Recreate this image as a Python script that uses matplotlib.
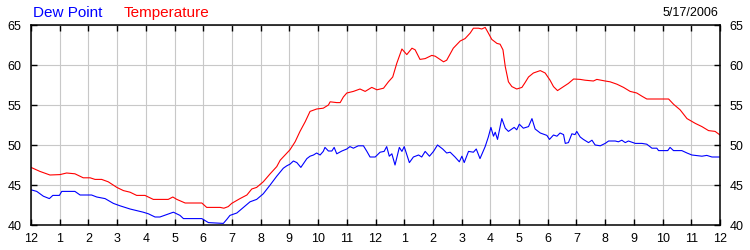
import matplotlib
matplotlib.use("Agg")
import matplotlib.pyplot as plt

# readings for 5/17/2006, hours since midnight
temp_hours = [0, 0.31, 0.66, 1.01, 1.24, 1.53, 1.82, 2.06, 2.23, 2.46, 2.69, 2.99,
              3.22, 3.45, 3.68, 3.97, 4.26, 4.78, 4.94, 5.08, 5.37, 5.95, 6.12, 6.59,
              6.72, 6.87, 6.99, 7.28, 7.52, 7.69, 7.86, 8.09, 8.33, 8.56, 8.68, 8.85,
              9.02, 9.20, 9.37, 9.55, 9.72, 9.95, 10.18, 10.36, 10.42, 10.65, 10.77,
              10.88, 11.0, 11.23, 11.46, 11.64, 11.87, 12.05, 12.28, 12.45, 12.60,
              12.74, 12.92, 13.09, 13.27, 13.38, 13.55, 13.73, 13.96, 14.08, 14.37,
              14.48, 14.71, 14.95, 15.12, 15.30, 15.41, 15.59, 15.70, 15.82, 15.93,
              16.05, 16.23, 16.34, 16.44, 16.52, 16.63, 16.75, 16.92, 17.10, 17.21,
              17.33, 17.50, 17.74, 17.91, 18.08, 18.20, 18.34, 18.55, 18.72, 18.90,
              19.13, 19.30, 19.59, 19.71, 20.0, 20.17, 20.41, 20.64, 20.87, 21.10,
              21.28, 21.45, 22.21, 22.38, 22.61, 22.85, 23.14, 23.37, 23.60, 23.83, 24.0]
temp_vals = [47.2, 46.7, 46.25, 46.3, 46.5, 46.4, 45.9, 45.9, 45.7, 45.7, 45.4, 44.7,
             44.3, 44.1, 43.7, 43.7, 43.2, 43.2, 43.5, 43.2, 42.75, 42.75, 42.2, 42.2,
             42.1, 42.3, 42.7, 43.3, 43.75, 44.5, 44.7, 45.4, 46.4, 47.3, 48.1, 48.75,
             49.4, 50.4, 51.7, 52.9, 54.2, 54.5, 54.6, 55.0, 55.4, 55.3, 55.3,
             56.0, 56.5, 56.7, 57.0, 56.7, 57.2, 56.9, 57.1, 57.9, 58.5,
             60.2, 62.0, 61.3, 62.1, 61.9, 60.7, 60.8, 61.2, 61.1, 60.4,
             60.6, 62.1, 63.0, 63.3, 64.0, 64.6, 64.6, 64.5, 64.7, 64.0,
             63.2, 62.7, 62.6, 61.9, 59.8, 57.9, 57.3, 57.0, 57.2, 57.8,
             58.5, 59.0, 59.3, 59.0, 58.1, 57.3, 56.8, 57.3, 57.7, 58.25,
             58.2, 58.1, 58.0, 58.2, 58.0, 57.9, 57.6, 57.2, 56.7, 56.5,
             56.1, 55.75, 55.75, 55.1, 54.4, 53.3, 52.7, 52.3, 51.8, 51.7, 51.25]

dew_hours = [0, 0.2, 0.43, 0.64, 0.76, 0.99, 1.07, 1.53, 1.71, 2.11, 2.29, 2.58, 2.87,
             3.10, 3.45, 3.91, 4.09, 4.32, 4.49, 4.73, 4.96, 5.19, 5.31, 5.95, 6.18,
             6.70, 6.82, 6.93, 7.17, 7.40, 7.63, 7.86, 8.09, 8.33, 8.56, 8.79, 8.91,
             9.02, 9.14, 9.26, 9.40, 9.61, 9.72, 9.84, 9.95, 10.07, 10.18, 10.24,
             10.36, 10.48, 10.56, 10.65, 10.83, 11.0, 11.11, 11.23, 11.40, 11.58,
             11.70, 11.81, 11.99, 12.16, 12.30, 12.39, 12.48, 12.57, 12.68, 12.83,
             12.92, 13.0, 13.18, 13.32, 13.50, 13.61, 13.73, 13.88, 14.02, 14.16,
             14.34, 14.48, 14.60, 14.77, 14.92, 15.01, 15.09, 15.24, 15.41, 15.51,
             15.64, 15.82, 15.93, 16.02, 16.11, 16.17, 16.25, 16.40, 16.52, 16.63,
             16.75, 16.83, 16.92, 17.01, 17.15, 17.33, 17.45, 17.56, 17.74, 17.97,
             18.06, 18.20, 18.32, 18.43, 18.55, 18.61, 18.72, 18.84, 18.95, 19.01,
             19.13, 19.24, 19.42, 19.54, 19.65, 19.83, 20.0, 20.12, 20.35, 20.46,
             20.58, 20.70, 20.81, 21.05, 21.28, 21.45, 21.63, 21.80, 21.86, 22.18,
             22.26, 22.38, 22.67, 22.85, 23.02, 23.37, 23.54, 23.72, 24.0]
dew_vals = [44.4, 44.2, 43.6, 43.3, 43.7, 43.7, 44.2, 44.2, 43.75, 43.75, 43.5, 43.3, 42.7,
            42.4, 42.0, 41.6, 41.4, 41.0, 41.0, 41.3, 41.6, 41.2, 40.8, 40.8, 40.3,
            40.2, 40.7, 41.2, 41.5, 42.2, 42.9, 43.2, 43.9, 45.0, 46.1, 47.1, 47.4,
            47.6, 48.0, 47.8, 47.2, 48.3, 48.6, 48.75, 49.0, 48.75, 49.2, 49.7,
            49.25, 49.25, 49.7, 48.9, 49.25, 49.5, 49.8, 49.6, 49.9, 49.9,
            49.2, 48.5, 48.5, 49.1, 49.2, 49.8, 48.6, 48.9, 47.5, 49.7,
            49.2, 49.8, 47.8, 48.5, 48.75, 48.5, 49.2, 48.6, 49.2, 50.0,
            49.5, 49.0, 49.1, 48.5, 47.9, 48.6, 47.8, 49.2, 49.1, 49.5,
            48.3, 49.8, 51.0, 52.2, 51.1, 51.6, 50.7, 53.3, 52.1, 51.7,
            52.0, 52.2, 51.9, 52.6, 52.1, 52.3, 53.3, 52.0, 51.5, 51.2,
            50.7, 51.25, 51.1, 51.5, 51.3, 50.2, 50.3, 51.4, 51.3, 51.7,
            51.0, 50.7, 50.3, 50.6, 50.0, 49.9, 50.2, 50.5, 50.5, 50.4,
            50.6, 50.3, 50.5, 50.2, 50.2, 50.1, 49.6, 49.6, 49.3, 49.3,
            49.7, 49.3, 49.3, 49.0, 48.75, 48.6, 48.7, 48.5, 48.5]

hour_ticks = list(range(0, 25))
hour_labels = ["12", "1", "2", "3", "4", "5", "6", "7", "8", "9", "10", "11",
               "12", "1", "2", "3", "4", "5", "6", "7", "8", "9", "10", "11", "12"]
y_ticks = [40, 45, 50, 55, 60, 65]
date_text = "5/17/2006"

plt.rcParams['font.family'] = ['Liberation Sans', 'DejaVu Sans']

fig = plt.figure(figsize=(7.5, 2.5), dpi=100)
ax = fig.add_axes([31 / 750, 0.1, 689 / 750, 0.8])

ax.plot(temp_hours, temp_vals, color="#ff0000", linewidth=0.8)
ax.plot(dew_hours, dew_vals, color="#0000ff", linewidth=0.8)

ax.set_xlim(0, 24)
ax.set_ylim(40, 65)
ax.set_xticks(hour_ticks)
ax.set_xticklabels(hour_labels)
ax.set_yticks(y_ticks)
ax.grid(True, color="#c8c8c8", linewidth=0.8)
ax.set_axisbelow(True)

for s in ax.spines.values():
    s.set_color("black")
    s.set_linewidth(1.1)

ax.tick_params(axis="x", direction="in", top=True, bottom=True, length=4,
               width=1, labelsize=9, pad=6)
ax.tick_params(axis="y", direction="in", left=True, right=True, labelleft=True,
               labelright=True, length=4, width=1, labelsize=9, pad=7)

fig.text(33 / 750, 1 - 13 / 250, "Dew Point", color="#0000ff", fontsize=11, va="center", ha="left")
fig.text(124 / 750, 1 - 13 / 250, "Temperature", color="#ff0000", fontsize=11, va="center", ha="left")
fig.text(718 / 750, 1 - 13 / 250, date_text, color="black", fontsize=9, va="center", ha="right")

fig.savefig("out.png", dpi=100)
